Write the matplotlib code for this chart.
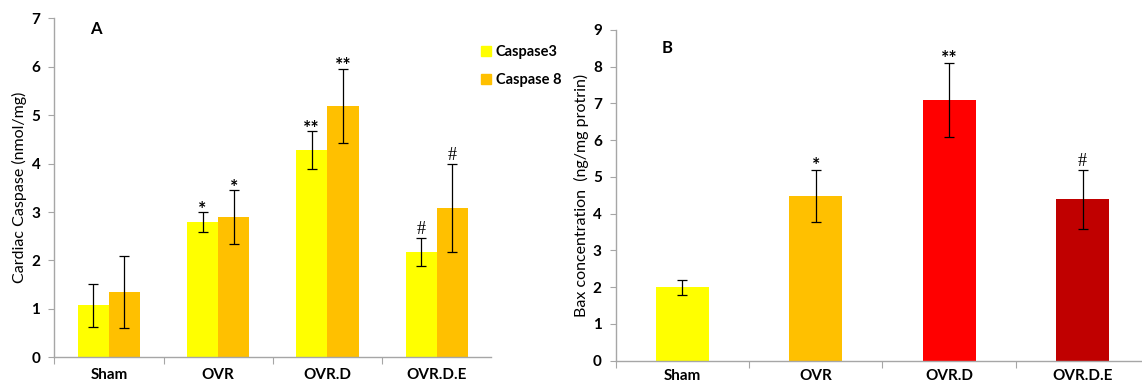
# Imports =====================================================================
import numpy as np
import matplotlib.pyplot as plt
from matplotlib.patches import Patch

# Data ========================================================================
groups = ["Sham", "OVR", "OVR.D", "OVR.D.E"]

# Panel A - cardiac caspase (nmol/mg)
casp3 = [1.07, 2.79, 4.28, 2.18]
casp3_err = [0.44, 0.21, 0.39, 0.29]
casp8 = [1.35, 2.90, 5.19, 3.09]
casp8_err = [0.74, 0.55, 0.77, 0.91]
casp3_marks = ["", "*", "**", "#"]
casp8_marks = ["", "*", "**", "#"]

# Panel B - Bax concentration (ng/mg protein)
bax = [2.0, 4.48, 7.1, 4.39]
bax_err = [0.2, 0.71, 1.0, 0.8]
bax_marks = ["", "*", "**", "#"]
bax_colors = ["#FFFF00", "#FFC000", "#FF0000", "#C00000"]

# Style =======================================================================
plt.rcParams["font.family"] = ["Lato", "DejaVu Sans"]
spine_col = "#A6A6A6"
err_kw = dict(ecolor="black", capsize=3.5,
              error_kw=dict(elinewidth=0.9, capthick=0.9))


def style_axis(ax, n, ymax, xpad):
    for s in ["top", "right"]:
        ax.spines[s].set_visible(False)
    for s in ["left", "bottom"]:
        ax.spines[s].set_color(spine_col)
        ax.spines[s].set_linewidth(1.0)
    ax.set_ylim(0, ymax)
    ax.set_yticks(range(0, ymax + 1))
    ax.tick_params(axis="y", length=4, width=0.8, color=spine_col,
                   labelsize=11, pad=6)
    ax.set_xticks(np.arange(n))
    ax.set_xticklabels(groups)
    ax.tick_params(axis="x", which="major", length=0, labelsize=11, pad=xpad)
    ax.set_xticks(np.arange(n) - 0.5, minor=True)
    ax.tick_params(axis="x", which="minor", length=5, width=0.8,
                   color=spine_col)
    for lab in ax.get_xticklabels() + ax.get_yticklabels():
        lab.set_fontweight("bold")


def mark(ax, x, top, txt):
    if not txt:
        return
    if txt == "#":
        ax.text(x, top, txt, ha="center", va="bottom", fontsize=13,
                family=["Liberation Serif", "DejaVu Serif"])
    else:
        ax.text(x, top - 0.12, txt, ha="center", va="bottom", fontsize=14,
                fontweight="bold")


fig = plt.figure(figsize=(11.42, 3.85), dpi=100)

# Panel A =====================================================================
axA = fig.add_axes([0.0475, 0.0719, 0.3827, 0.8806])
x = np.arange(len(groups))
w = 0.285
axA.bar(x - w / 2, casp3, w, color="#FFFF00", yerr=casp3_err, **err_kw)
axA.bar(x + w / 2, casp8, w, color="#FFC000", yerr=casp8_err, **err_kw)
axA.set_xlim(-0.5, len(groups) - 0.5)
style_axis(axA, len(groups), 7, 8)
axA.set_ylabel("Cardiac Caspase (nmol/mg)", fontsize=11.5, labelpad=3)
for i in range(len(groups)):
    mark(axA, x[i] - w / 2, casp3[i] + casp3_err[i], casp3_marks[i])
    mark(axA, x[i] + w / 2, casp8[i] + casp8_err[i], casp8_marks[i])
axA.text(96 / 1142, 1 - 29 / 385, "A", transform=fig.transFigure,
         fontsize=12, fontweight="bold", ha="center", va="center")
handles = [Patch(color="#FFFF00", label="Caspase3"),
           Patch(color="#FFC000", label="Caspase 8")]
leg = axA.legend(handles=handles, loc="upper left",
                 bbox_to_anchor=(468 / 1142, 1 - 32 / 385),
                 bbox_transform=fig.transFigure, frameon=False,
                 handlelength=0.65, handleheight=0.65, handletextpad=0.35,
                 labelspacing=0.95, prop=dict(size=10.5, weight="bold"))

# Panel B =====================================================================
axB = fig.add_axes([0.5391, 0.0631, 0.4609, 0.859])
wb = 0.395
axB.bar(x, bax, wb, color=bax_colors, yerr=bax_err, **err_kw)
axB.set_xlim(-0.5, -0.5 + (1142 - 615.7) / 133.4)
style_axis(axB, len(groups), 9, 6)
axB.set_ylabel("Bax concentration  (ng/mg protrin)", fontsize=11.5,
               labelpad=3)
for i in range(len(groups)):
    mark(axB, x[i], bax[i] + bax_err[i], bax_marks[i])
axB.text(667 / 1142, 1 - 48 / 385, "B", transform=fig.transFigure,
         fontsize=12, fontweight="bold", ha="center", va="center")

fig.savefig("out.png", dpi=100)

# ##### END OF FILE ###########################################################
